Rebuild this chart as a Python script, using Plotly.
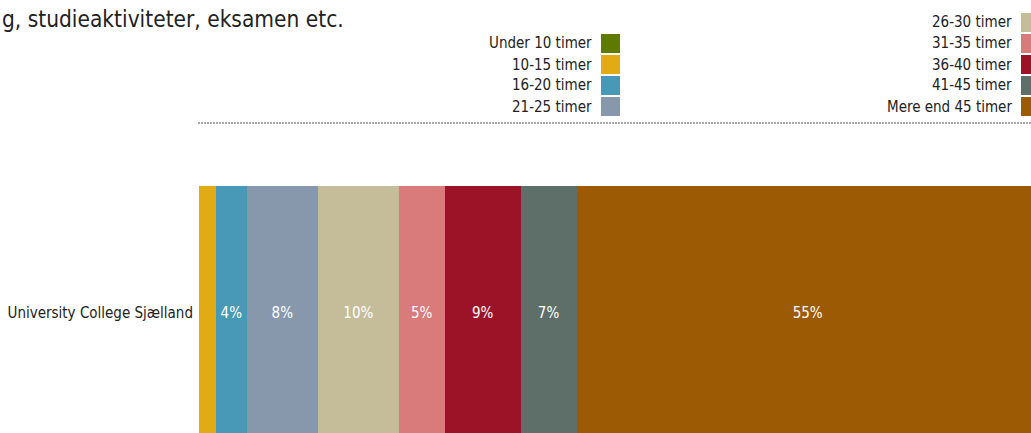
import plotly.graph_objects as go

W, H = 1031, 433

categories = ["Under 10 timer", "10-15 timer", "16-20 timer", "21-25 timer",
              "26-30 timer", "31-35 timer", "36-40 timer", "41-45 timer",
              "Mere end 45 timer"]
values = [0.0, 2.0, 3.7, 8.45, 9.65, 5.45, 9.05, 6.65, 55.05]
colors = ["#5F7A00", "#E1AC13", "#4799B7", "#8797AC", "#C5BC9A",
          "#D97B7B", "#9C1328", "#5E6E68", "#9C5A05"]
institution = "University College Sjælland"
title_text = "g, studieaktiviteter, eksamen etc."

FONT = "DejaVu Sans Condensed, DejaVu Sans, sans-serif"


def px(x):
    return x / W


def py(y):
    return 1 - y / H


fig = go.Figure()
for cat, val, col in zip(categories, values, colors):
    label = f"{round(val)}%" if val >= 3 else ""
    fig.add_trace(go.Bar(
        x=[val], y=[0], orientation="h", name=cat,
        marker=dict(color=col, line=dict(width=0)),
        width=1,
        text=[label], textposition="inside", insidetextanchor="middle",
        textfont=dict(color="white", size=15, family=FONT),
        showlegend=False, hoverinfo="name+x",
    ))

annotations = [dict(
    text=title_text, x=0, y=py(19), xref="paper", yref="paper",
    xanchor="left", yanchor="middle", showarrow=False,
    font=dict(size=22.5, color="#222", family=FONT),
)]
shapes = []
for i, (cat, col) in enumerate(zip(categories, colors)):
    if i < 4:
        row = i + 1
        sx0 = 601
        tx = 594
    else:
        row = i - 4
        sx0 = 1021
        tx = 1014
    top = 13 + row * 21
    shapes.append(dict(type="rect", xref="paper", yref="paper",
                       x0=px(sx0), x1=px(sx0 + 19), y0=py(top + 19), y1=py(top),
                       fillcolor=col, line=dict(width=0)))
    annotations.append(dict(
        text=cat, x=px(tx), y=py(top + 9.5), xref="paper", yref="paper",
        xanchor="right", yanchor="middle", showarrow=False,
        font=dict(size=15, color="#222", family=FONT),
    ))

shapes.append(dict(type="line", xref="paper", yref="paper",
                   x0=px(198), x1=1, y0=py(123), y1=py(123),
                   line=dict(color="#555", width=1, dash="2px,1px")))

fig.update_layout(
    width=W, height=H,
    margin=dict(l=0, r=0, t=0, b=0),
    barmode="stack",
    paper_bgcolor="white", plot_bgcolor="white",
    annotations=annotations, shapes=shapes,
    xaxis=dict(domain=[px(199), 1], range=[0, 100 * 832 / 840],
               visible=False, fixedrange=True),
    yaxis=dict(domain=[0, py(186)], range=[-0.4724, 0.5],
               tickvals=[0], ticktext=[institution], ticks="",
               showgrid=False, zeroline=False, showline=False,
               automargin=False, ticklabelstandoff=5, fixedrange=True,
               tickfont=dict(size=15, color="#222", family=FONT)),
    font=dict(family=FONT),
)

fig.write_html("out.html", config={"displayModeBar": False},
               post_script="document.body.style.margin='0';document.body.style.overflow='hidden';")
